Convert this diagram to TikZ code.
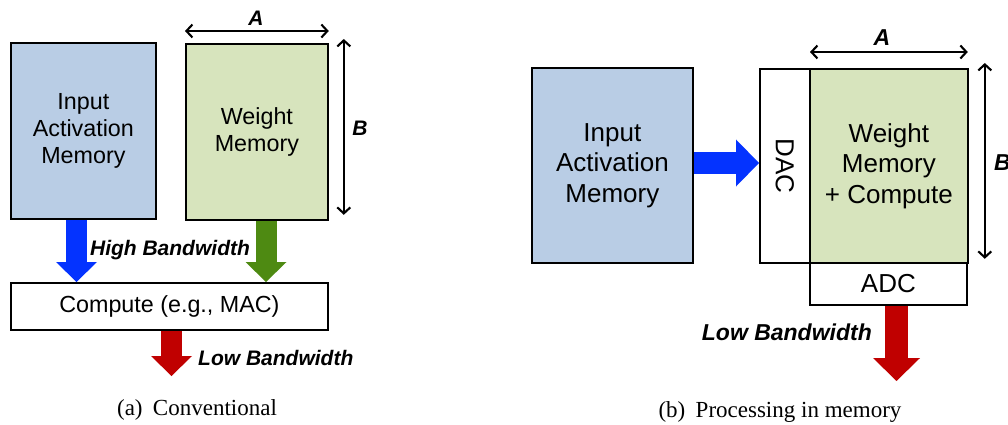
\documentclass[tikz,border=0pt]{standalone}
\usepackage{fontspec}
\setmainfont{Liberation Serif}
\setsansfont{Liberation Sans}
\usetikzlibrary{arrows.meta,calc}
\definecolor{memblue}{HTML}{B9CDE5}
\definecolor{memgreen}{HTML}{D7E4BD}
\definecolor{arrblue}{HTML}{0433FF}
\definecolor{arrgreen}{HTML}{4E8A12}
\definecolor{arrred}{HTML}{C00000}
\begin{document}
\begin{tikzpicture}[x=1pt,y=-1pt,
 box/.style={draw=black, line width=1.8pt, inner sep=0pt, anchor=north west, align=center},
 fa/.style={font=\sffamily\fontsize{23.3}{27}\selectfont, align=center},
 fb/.style={font=\sffamily\fontsize{26}{30.5}\selectfont, align=center},
 bwa/.style={font=\sffamily\bfseries\itshape\fontsize{21}{24}\selectfont, inner sep=0pt},
 bwb/.style={font=\sffamily\bfseries\itshape\fontsize{23}{26}\selectfont, inner sep=0pt},
 fata/.style={line width=21pt, -{Triangle[width=41pt,length=20pt,line width=0pt]}},
 fatb/.style={line width=22.5pt, -{Triangle[width=47pt,length=23pt,line width=0pt]}},
 dim/.style={line width=2.1pt, {Straight Barb[length=6pt,width=13pt]}-{Straight Barb[length=6pt,width=13pt]}},
 captext/.style={font=\rmfamily\fontsize{23}{26}\selectfont, inner sep=0pt}
]
\useasboundingbox (0,0) rectangle (1008,425);

% ---------- panel (a)
\node[box, fill=memblue, minimum width=145pt, minimum height=176pt, fa] (ia) at (10,42) {Input\\Activation\\Memory};
\node[box, fill=memgreen, minimum width=142pt, minimum height=176pt, fa] (wm) at (185,43) {Weight\\Memory};
\node[box, fill=white, minimum width=317pt, minimum height=47pt, fa] (cm) at (10,282) {Compute (e.g., MAC)};

\coordinate (aA1) at ($(wm.north west)+(0,-12)$);
\coordinate (aA2) at ($(wm.north east)+(0,-12)$);
\draw[dim] (aA1) -- (aA2);
\node[bwa] (labA) at (256,18) {A};
\coordinate (aB1) at ($(wm.north east)+(15,-4)$);
\coordinate (aB2) at ($(wm.south east)+(15,-6)$);
\draw[dim] (aB1) -- (aB2);
\node[bwa] (labB) at (360,128) {B};

\coordinate (pa) at (76.5,0);
\coordinate (pg) at (266,0);
\coordinate (pr) at (171.5,0);
\coordinate (redtipa) at (171.5,376);
\draw[fata, arrblue] (pa |- ia.south) -- (pa |- cm.north);
\draw[fata, arrgreen] (pg |- wm.south) -- (pg |- cm.north);
\draw[fata, arrred] (pr |- cm.south) -- (redtipa);
\node[bwa] (hba) at (170,250) {High Bandwidth};
\node[bwa, anchor=west] (lba) at (198,358) {Low Bandwidth};
\node[captext] (capa) at (197,410) {(a)\hspace{0.45em}Conventional};

% ---------- panel (b)
\node[box, fill=memblue, minimum width=161pt, minimum height=195pt, fb] (ib) at (531,67) {Input\\Activation\\Memory};
\node[box, fill=white, minimum width=50pt, minimum height=194pt] (dac) at (759,68) {};
\node[box, fill=memgreen, minimum width=158pt, minimum height=194pt, fb] (wb) at (809,68) {Weight\\Memory\\+ Compute};
\node[box, fill=white, minimum width=157pt, minimum height=42pt, fb] (adc) at (809,262) {ADC};
\node[fb, rotate=-90] (dactext) at (dac.center) {DAC};

\coordinate (bA1) at ($(wb.north west)+(1,-16)$);
\coordinate (bA2) at ($(wb.north east)+(-1,-16)$);
\draw[dim] (bA1) -- (bA2);
\node[bwb] (labAb) at (882,38) {A};
\coordinate (bB1) at ($(wb.north east)+(16,-5)$);
\coordinate (bB2) at ($(wb.south east)+(16,-5)$);
\draw[dim] (bB1) -- (bB2);
\node[bwb, anchor=west] (labBb) at (994,163) {B};

\coordinate (pbb) at (0,163);
\coordinate (pbr) at (896.5,0);
\coordinate (redtipb) at (896.5,381);
\draw[fatb, arrblue] (pbb -| ib.east) -- (pbb -| dac.west);
\draw[fatb, arrred] (pbr |- adc.south) -- (redtipb);
\node[bwb, anchor=east] (lbb) at (872,332) {Low Bandwidth};
\node[captext] (capb) at (780,412) {(b)\hspace{0.45em}Processing in memory};
\end{tikzpicture}
\end{document}
